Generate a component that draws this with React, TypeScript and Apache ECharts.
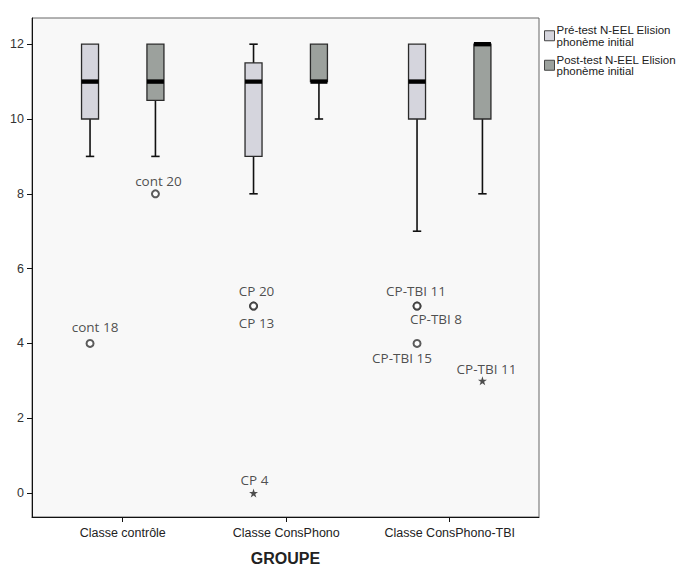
import React, { useEffect, useRef } from "react";
import * as echarts from "echarts";

const categories = ["Classe contrôle", "Classe ConsPhono", "Classe ConsPhono-TBI"];
const seriesNames = ["Pré-test N-EEL Elision\nphonème initial", "Post-test N-EEL Elision\nphonème initial"];
// [min whisker, Q1, median, Q3, max whisker]
const preStats = [
  [9, 10, 11, 12, 12],
  [8, 9, 11, 11.5, 12],
  [7, 10, 11, 12, 12],
];
const postStats = [
  [9, 10.5, 11, 12, 12],
  [10, 11, 11, 12, 12],
  [8, 10, 12, 12, 12],
];
const yTicks = [0, 2, 4, 6, 8, 10, 12];
// outliers: group index, test (0 pre, 1 post), value, case label, kind
const outlierGroup = [0, 0, 1, 1, 1, 2, 2, 2, 2];
const outlierTest = [0, 1, 0, 0, 0, 0, 0, 0, 1];
const outlierValue = [4, 8, 5, 5, 0, 5, 5, 4, 3];
const outlierLabel = ["cont 18", "cont 20", "CP 20", "CP 13", "CP 4", "CP-TBI 11", "CP-TBI 8", "CP-TBI 15", "CP-TBI 11"];
const outlierKind = ["circle", "circle", "circle", "circle", "star", "circle", "circle", "circle", "star"];

// styling (label offsets in pixels)
const labelOffsets = [[5, -16], [3, -13], [3, -15], [3, 17], [1, -13], [-1, -15], [19, 13], [-15, 15], [4, -12]];
const pairOffset = 0.2;
const preColor = "#d5d5dd";
const postColor = "#9ca19d";
const starPath =
  "path://M5,0 L6.2,3.6 L10,3.6 L6.9,5.8 L8.1,9.5 L5,7.2 L1.9,9.5 L3.1,5.8 L0,3.6 L3.8,3.6 Z";
const font = "Liberation Sans, Arial";

function boxRenderer(fill: string) {
  return (params: any, api: any) => {
    const x = api.value(0);
    const mn = api.value(1);
    const q1 = api.value(2);
    const med = api.value(3);
    const q3 = api.value(4);
    const mx = api.value(5);
    const cx = api.coord([x, 0])[0];
    const y = (v: number) => api.coord([x, v])[1];
    const hw = 8.5;
    const cap = 4.2;
    const lineStyle = { stroke: "#111", lineWidth: 1.6 };
    const children: any[] = [];
    if (mn < q1) {
      children.push({ type: "line", shape: { x1: cx, y1: y(mn), x2: cx, y2: y(q1) }, style: lineStyle });
      children.push({ type: "line", shape: { x1: cx - cap, y1: y(mn), x2: cx + cap, y2: y(mn) }, style: lineStyle });
    }
    if (mx > q3) {
      children.push({ type: "line", shape: { x1: cx, y1: y(mx), x2: cx, y2: y(q3) }, style: lineStyle });
      children.push({ type: "line", shape: { x1: cx - cap, y1: y(mx), x2: cx + cap, y2: y(mx) }, style: lineStyle });
    }
    children.push({
      type: "rect",
      shape: { x: cx - hw, y: y(q3), width: hw * 2, height: y(q1) - y(q3) },
      style: { fill, stroke: "#2a2a2a", lineWidth: 1.3 },
    });
    children.push({
      type: "rect",
      shape: { x: cx - hw, y: y(med) - 2.2, width: hw * 2, height: 4.4 },
      style: { fill: "#000" },
    });
    return { type: "group", children };
  };
}

export default function App() {
  const ref = useRef<HTMLDivElement>(null);
  useEffect(() => {
    if (!ref.current) return;
    const chart = echarts.init(ref.current, undefined, { renderer: "svg" });
    const preData = preStats.map((s, i) => [i - pairOffset, ...s]);
    const postData = postStats.map((s, i) => [i + pairOffset, ...s]);
    const outlierData = outlierValue.map((v, k) => ({
      value: [outlierGroup[k] + (outlierTest[k] === 0 ? -pairOffset : pairOffset), v],
      name: outlierLabel[k],
      symbol: outlierKind[k] === "star" ? starPath : "emptyCircle",
      symbolSize: outlierKind[k] === "star" ? 9 : 7,
      itemStyle:
        outlierKind[k] === "star"
          ? { color: "#222", borderWidth: 0 }
          : { color: "#333", borderColor: "#333", borderWidth: 1 },
      label: { offset: labelOffsets[k] },
    }));
    chart.setOption({
      animation: false,
      backgroundColor: "#ffffff",
      grid: {
        left: 32,
        top: 18,
        right: 139,
        bottom: 51,
        containLabel: false,
        outerBoundsMode: "none",
        show: true,
        backgroundColor: "#f8f8f8",
        borderColor: "#666",
        borderWidth: 1,
      },
      legend: {
        orient: "vertical",
        left: 539,
        top: 19,
        itemWidth: 10,
        itemHeight: 10,
        itemGap: 6,
        selectedMode: false,
        textStyle: {
          fontFamily: font,
          fontSize: 11.5,
          lineHeight: 11.5,
          color: "#222",
          padding: [0, 0, 0, -3],
        },
        data: [
          { name: seriesNames[0], icon: "rect", itemStyle: { color: preColor, borderColor: "#444", borderWidth: 1 } },
          { name: seriesNames[1], icon: "rect", itemStyle: { color: postColor, borderColor: "#444", borderWidth: 1 } },
        ],
      },
      xAxis: {
        type: "value",
        min: -0.555,
        max: 2.546,
        splitLine: { show: false },
        axisLine: { onZero: false, lineStyle: { color: "#111", width: 1 } },
        axisTick: { customValues: [0, 1, 2], length: 5, lineStyle: { color: "#111" } },
        axisLabel: {
          customValues: [0, 1, 2],
          formatter: (v: number) => categories[Math.round(v)] ?? "",
          fontFamily: font,
          fontSize: 12.5,
          color: "#222",
          margin: 9,
        },
        name: "GROUPE",
        nameLocation: "middle",
        nameGap: 33,
        nameTextStyle: { fontFamily: font, fontSize: 16, fontWeight: "bold", color: "#222" },
      },
      yAxis: {
        type: "value",
        min: -0.64,
        max: 12.7,
        splitLine: { show: false },
        axisLine: { show: true, onZero: false, lineStyle: { color: "#111", width: 1 } },
        axisTick: { show: true, customValues: yTicks, length: 5, lineStyle: { color: "#111" } },
        axisLabel: {
          customValues: yTicks,
          fontFamily: font,
          fontSize: 12.5,
          color: "#333",
          margin: 8,
        },
      },
      series: [
        {
          name: seriesNames[0],
          type: "custom",
          itemStyle: { color: preColor },
          renderItem: boxRenderer(preColor),
          encode: { x: 0, y: [1, 2, 3, 4, 5] },
          data: preData,
          z: 2,
        },
        {
          name: seriesNames[1],
          type: "custom",
          itemStyle: { color: postColor },
          renderItem: boxRenderer(postColor),
          encode: { x: 0, y: [1, 2, 3, 4, 5] },
          data: postData,
          z: 2,
        },
        {
          name: "outliers",
          type: "scatter",
          z: 3,
          data: outlierData,
          label: {
            show: true,
            position: "inside",
            formatter: (p: any) => p.name,
            fontFamily: "Open Sans, Noto Sans",
            fontSize: 13.5,
            color: "#222",
          },
        },
      ],
    });
    return () => chart.dispose();
  }, []);
  return (
    <div
      ref={ref}
      style={{ position: "fixed", left: 0, top: 0, width: 678, height: 568, background: "#fff" }}
    />
  );
}
